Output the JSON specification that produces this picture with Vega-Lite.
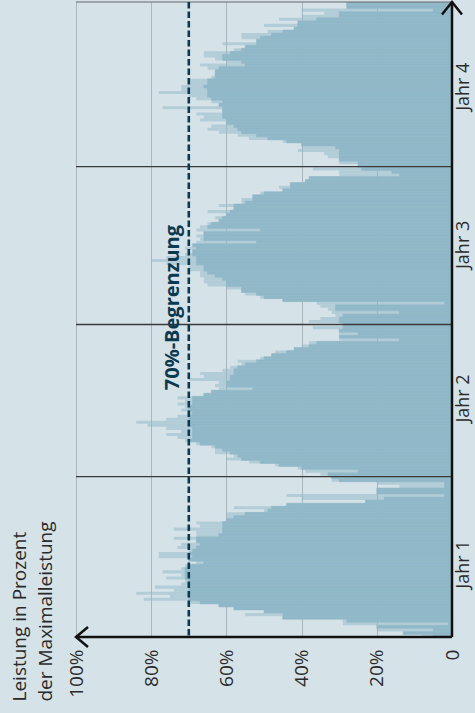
{
  "$schema": "https://vega.github.io/schema/vega-lite/v6.json",
  "width": 376,
  "height": 635,
  "autosize": {"type": "none"},
  "padding": {"left": 76, "top": 2, "right": 23, "bottom": 76},
  "background": "#d5e3e9",
  "config": {"view": {"stroke": null}, "font": "Open Sans"},
  "datasets": {
    "weeks": [
      {"w":0,"v":5,"p":8},{"w":1,"v":13,"p":13},{"w":2,"v":5,"p":20},{"w":3,"v":20,"p":20},{"w":4,"v":1,"p":29},
      {"w":5,"v":28,"p":29},{"w":6,"v":45,"p":45},{"w":7,"v":45,"p":55},{"w":8,"v":50,"p":50},{"w":9,"v":58,"p":58},
      {"w":10,"v":62,"p":62},{"w":11,"v":67,"p":70},{"w":12,"v":70,"p":82},{"w":13,"v":70,"p":75},{"w":14,"v":70,"p":84},
      {"w":15,"v":70,"p":74},{"w":16,"v":70,"p":79},{"w":17,"v":70,"p":72},{"w":18,"v":70,"p":71},{"w":19,"v":71,"p":76},
      {"w":20,"v":71,"p":72},{"w":21,"v":71,"p":77},{"w":22,"v":71,"p":72},{"w":23,"v":70,"p":71},{"w":24,"v":66,"p":68},
      {"w":25,"v":70,"p":70},{"w":26,"v":69,"p":78},{"w":27,"v":70,"p":78},{"w":28,"v":69,"p":70},{"w":29,"v":68,"p":73},
      {"w":30,"v":67,"p":72},{"w":31,"v":68,"p":68},{"w":32,"v":68,"p":74},{"w":33,"v":62,"p":68},{"w":34,"v":61,"p":68},
      {"w":35,"v":61,"p":74},{"w":36,"v":61,"p":67},{"w":37,"v":61,"p":68},{"w":38,"v":60,"p":60},{"w":39,"v":58,"p":60},
      {"w":40,"v":55,"p":60},{"w":41,"v":49,"p":50},{"w":42,"v":48,"p":58},{"w":43,"v":44,"p":44},{"w":44,"v":23,"p":23},
      {"w":45,"v":18,"p":40},{"w":46,"v":2,"p":44},{"w":47,"v":20,"p":20},{"w":48,"v":20,"p":20},{"w":49,"v":2,"p":14},
      {"w":50,"v":2,"p":20},{"w":51,"v":30,"p":32},
      {"w":52,"v":32,"p":32},{"w":53,"v":33,"p":35},{"w":54,"v":25,"p":39},{"w":55,"v":40,"p":41},{"w":56,"v":46,"p":47},
      {"w":57,"v":51,"p":54},{"w":58,"v":56,"p":60},{"w":59,"v":57,"p":58},{"w":60,"v":59,"p":63},{"w":61,"v":61,"p":63},
      {"w":62,"v":63,"p":64},{"w":63,"v":67,"p":68},{"w":64,"v":70,"p":71},{"w":65,"v":69,"p":73},{"w":66,"v":69,"p":76},
      {"w":67,"v":69,"p":72},{"w":68,"v":69,"p":76},{"w":69,"v":70,"p":81},{"w":70,"v":70,"p":84},{"w":71,"v":70,"p":76},
      {"w":72,"v":70,"p":73},{"w":73,"v":69,"p":70},{"w":74,"v":70,"p":72},{"w":75,"v":70,"p":71},{"w":76,"v":69,"p":73},
      {"w":77,"v":69,"p":71},{"w":78,"v":69,"p":73},{"w":79,"v":66,"p":66},{"w":80,"v":64,"p":64},{"w":81,"v":53,"p":62},
      {"w":82,"v":60,"p":63},{"w":83,"v":60,"p":62},{"w":84,"v":59,"p":70},{"w":85,"v":59,"p":66},{"w":86,"v":58,"p":67},
      {"w":87,"v":58,"p":61},{"w":88,"v":57,"p":59},{"w":89,"v":55,"p":56},{"w":90,"v":52,"p":57},{"w":91,"v":50,"p":51},
      {"w":92,"v":48,"p":48},{"w":93,"v":44,"p":47},{"w":94,"v":42,"p":42},{"w":95,"v":38,"p":40},{"w":96,"v":36,"p":38},
      {"w":97,"v":14,"p":30},{"w":98,"v":30,"p":30},{"w":99,"v":25,"p":30},{"w":100,"v":30,"p":30},{"w":101,"v":29,"p":37},
      {"w":102,"v":29,"p":29},{"w":103,"v":30,"p":38},{"w":104,"v":30,"p":35},{"w":105,"v":29,"p":31},{"w":106,"v":14,"p":32},
      {"w":107,"v":31,"p":33},{"w":108,"v":31,"p":35},{"w":109,"v":2,"p":36},{"w":110,"v":45,"p":45},{"w":111,"v":50,"p":51},
      {"w":112,"v":52,"p":55},{"w":113,"v":56,"p":56},{"w":114,"v":56,"p":60},{"w":115,"v":60,"p":65},{"w":116,"v":60,"p":66},
      {"w":117,"v":61,"p":66},{"w":118,"v":63,"p":67},{"w":119,"v":65,"p":67},{"w":120,"v":66,"p":70},{"w":121,"v":66,"p":70},
      {"w":122,"v":68,"p":76},{"w":123,"v":68,"p":80},{"w":124,"v":68,"p":76},{"w":125,"v":69,"p":71},{"w":126,"v":69,"p":69},
      {"w":127,"v":68,"p":71},{"w":128,"v":69,"p":69},{"w":129,"v":52,"p":68},{"w":130,"v":66,"p":67},{"w":131,"v":66,"p":68},
      {"w":132,"v":66,"p":66},{"w":133,"v":51,"p":68},{"w":134,"v":65,"p":67},{"w":135,"v":64,"p":65},{"w":136,"v":62,"p":62},
      {"w":137,"v":61,"p":63},{"w":138,"v":60,"p":60},{"w":139,"v":59,"p":65},{"w":140,"v":58,"p":58},{"w":141,"v":58,"p":62},
      {"w":142,"v":55,"p":56},{"w":143,"v":53,"p":56},{"w":144,"v":53,"p":53},{"w":145,"v":50,"p":51},{"w":146,"v":45,"p":45},
      {"w":147,"v":43,"p":46},{"w":148,"v":43,"p":43},{"w":149,"v":39,"p":39},{"w":150,"v":38,"p":38},{"w":151,"v":14,"p":30},
      {"w":152,"v":16,"p":30},{"w":153,"v":24,"p":37},
      {"w":154,"v":25,"p":25},{"w":155,"v":25,"p":30},{"w":156,"v":30,"p":30},{"w":157,"v":30,"p":33},{"w":158,"v":30,"p":34},
      {"w":159,"v":30,"p":41},{"w":160,"v":31,"p":40},{"w":161,"v":40,"p":40},{"w":162,"v":44,"p":45},{"w":163,"v":49,"p":54},
      {"w":164,"v":52,"p":57},{"w":165,"v":56,"p":62},{"w":166,"v":57,"p":65},{"w":167,"v":58,"p":64},{"w":168,"v":60,"p":60},
      {"w":169,"v":60,"p":67},{"w":170,"v":61,"p":66},{"w":171,"v":61,"p":68},{"w":172,"v":61,"p":61},{"w":173,"v":61,"p":77},
      {"w":174,"v":62,"p":62},{"w":175,"v":61,"p":64},{"w":176,"v":64,"p":68},{"w":177,"v":65,"p":70},{"w":178,"v":65,"p":78},
      {"w":179,"v":65,"p":72},{"w":180,"v":66,"p":72},{"w":181,"v":65,"p":70},{"w":182,"v":65,"p":70},{"w":183,"v":63,"p":64},
      {"w":184,"v":63,"p":63},{"w":185,"v":63,"p":63},{"w":186,"v":62,"p":65},{"w":187,"v":55,"p":67},{"w":188,"v":56,"p":60},
      {"w":189,"v":61,"p":63},{"w":190,"v":61,"p":66},{"w":191,"v":59,"p":66},{"w":192,"v":56,"p":58},{"w":193,"v":55,"p":55},
      {"w":194,"v":52,"p":61},{"w":195,"v":52,"p":52},{"w":196,"v":51,"p":56},{"w":197,"v":48,"p":56},{"w":198,"v":45,"p":49},
      {"w":199,"v":42,"p":42},{"w":200,"v":41,"p":50},{"w":201,"v":41,"p":41},{"w":202,"v":36,"p":46},{"w":203,"v":30,"p":40},
      {"w":204,"v":30,"p":34},{"w":205,"v":5,"p":40},{"w":206,"v":28,"p":28},{"w":207,"v":28,"p":28}
    ]
  },
  "layer": [
    {
      "data": {"name": "weeks"},
      "mark": {"type": "bar", "binSpacing": 0, "color": "#91b8c8", "opacity": 0.5},
      "encoding": {
        "y": {"field": "w", "type": "quantitative", "bin": {"step": 1, "extent": [0, 208]}, "scale": {"domain": [0, 208], "nice": false, "zero": false}},
        "x": {
          "field": "p", "type": "quantitative",
          "scale": {"domain": [0, 100], "reverse": true, "nice": false},
          "axis": {
            "orient": "bottom",
            "values": [0, 10, 20, 30, 40, 50, 60, 70, 80, 90, 100],
            "labelExpr": "datum.value % 20 == 0 ? (datum.value == 0 ? '0' : datum.value + '%') : ''",
            "grid": true, "gridColor": "#a9b7bd", "gridWidth": 1,
            "domain": false, "ticks": false, "tickSize": 0,
            "labelAngle": 270, "labelAlign": "right", "labelBaseline": "middle",
            "labelPadding": 12, "labelFontSize": 19, "labelColor": "#2a2a2a",
            "labelFlush": false, "labelOverlap": false, "labelFont": "Open Sans",
            "title": ["Leistung in Prozent", "der Maximalleistung"],
            "titleAngle": 270, "titleAlign": "left", "titleBaseline": "top",
            "titleX": -66, "titleY": 64, "titleFontSize": 19, "titleFontWeight": "normal",
            "titleColor": "#2a2a2a", "titleLineHeight": 26, "titleFont": "Open Sans"
          }
        }
      }
    },
    {
      "data": {"name": "weeks"},
      "mark": {"type": "bar", "binSpacing": 0, "color": "#91b8c8", "stroke": "#91b8c8", "strokeWidth": 0.5},
      "encoding": {
        "y": {"field": "w", "type": "quantitative", "bin": {"step": 1, "extent": [0, 208]}},
        "x": {"field": "v", "type": "quantitative"}
      }
    },
    {
      "data": {"values": [{"t": 52.54}, {"t": 102.36}, {"t": 154.05}]},
      "mark": {"type": "rule", "color": "#3a3a3a", "strokeWidth": 1.3},
      "encoding": {
        "y": {
          "field": "t", "type": "quantitative",
          "axis": {
            "orient": "right",
            "values": [23.9, 78.3, 128.6, 180.4],
            "labelExpr": "datum.value < 50 ? 'Jahr 1' : datum.value < 100 ? 'Jahr 2' : datum.value < 150 ? 'Jahr 3' : 'Jahr 4'",
            "domain": false, "ticks": false, "tickSize": 0, "grid": false,
            "labelAngle": 270, "labelAlign": "center", "labelBaseline": "top",
            "labelPadding": 2, "labelFontSize": 18, "labelColor": "#2a2a2a",
            "labelFlush": false, "labelOverlap": false, "labelFont": "Open Sans",
            "title": null
          }
        }
      }
    },
    {
      "data": {"values": [{}]},
      "mark": {"type": "rule", "color": "#666666", "strokeWidth": 1.2},
      "encoding": {"y": {"datum": 208}}
    },
    {
      "data": {"values": [{}]},
      "mark": {"type": "rule", "color": "#0b3a4e", "strokeWidth": 2.6, "strokeDash": [6.5, 3]},
      "encoding": {"x": {"datum": 70}}
    },
    {
      "data": {"values": [{}]},
      "mark": {"type": "text", "text": "70%-Begrenzung", "angle": 270, "align": "center", "baseline": "alphabetic", "dy": -10, "fontSize": 20, "fontWeight": "bold", "color": "#0b3a4e", "font": "Open Sans"},
      "encoding": {"x": {"datum": 70}, "y": {"datum": 107.9}}
    },
    {
      "data": {"values": [{}]},
      "mark": {"type": "rule", "color": "#111111", "strokeWidth": 2.5},
      "encoding": {"x": {"datum": 0}, "y": {"datum": 0}, "y2": {"datum": 208}}
    },
    {
      "data": {"values": [{}]},
      "mark": {"type": "rule", "color": "#111111", "strokeWidth": 2.5},
      "encoding": {"y": {"datum": 0}, "x": {"datum": 0}, "x2": {"datum": 100}}
    },
    {
      "data": {"values": [{}]},
      "mark": {"type": "point", "shape": "M 1.2 -1 L 0 0 L 1.2 1", "size": 400, "filled": false, "stroke": "#111111", "strokeWidth": 2.5, "opacity": 1},
      "encoding": {"x": {"datum": 100}, "y": {"datum": 0}}
    },
    {
      "data": {"values": [{}]},
      "mark": {"type": "point", "shape": "M -1 1.25 L 0 0 L 1 1.25", "size": 400, "filled": false, "stroke": "#111111", "strokeWidth": 2.5, "opacity": 1},
      "encoding": {"x": {"datum": 0}, "y": {"datum": 208}}
    }
  ]
}
